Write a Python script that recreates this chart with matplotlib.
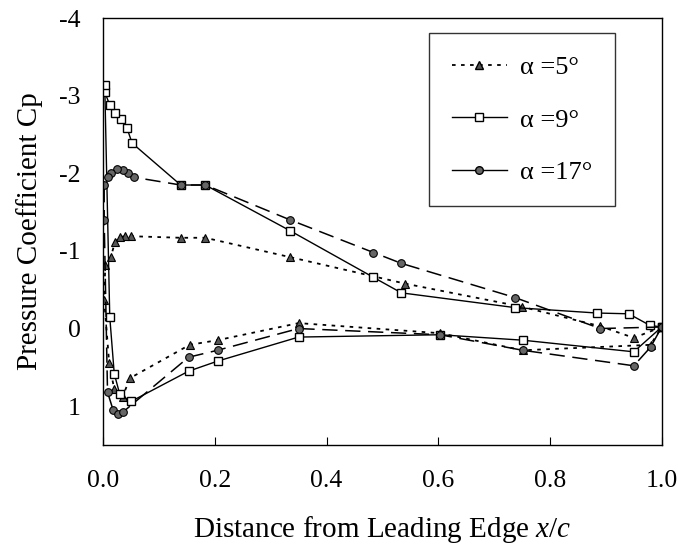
import matplotlib
matplotlib.use("Agg")
import matplotlib.pyplot as plt
from matplotlib.lines import Line2D

plt.rcParams['font.family'] = ['Liberation Serif', 'DejaVu Serif']
plt.rcParams['mathtext.fontset'] = 'custom'
plt.rcParams['mathtext.rm'] = 'Liberation Serif'
plt.rcParams['mathtext.it'] = 'Liberation Serif:italic'

# alpha = 5 deg (triangles), loop: upper surface TE -> LE, then lower LE -> TE
x_a5 = [1.0, 0.95, 0.89, 0.75, 0.54, 0.335, 0.183, 0.139, 0.05, 0.04, 0.03, 0.021, 0.014, 0.004, 0.002,
        0.011, 0.02, 0.035, 0.048, 0.155, 0.205, 0.35, 0.603, 0.751, 0.98, 1.0]
cp_a5 = [-0.02, 0.12, -0.03, -0.28, -0.58, -0.92, -1.17, -1.17, -1.19, -1.19, -1.18, -1.11, -0.92, -0.82, -0.37,
         0.45, 0.78, 0.88, 0.64, 0.21, 0.15, -0.07, 0.06, 0.28, 0.21, -0.02]

# alpha = 9 deg (squares)
x_a9 = [1.0, 0.979, 0.941, 0.884, 0.737, 0.534, 0.484, 0.335, 0.183, 0.139, 0.052, 0.043, 0.032, 0.022, 0.012,
        0.003, 0.003, 0.012, 0.02, 0.03, 0.05, 0.153, 0.205, 0.35, 0.603, 0.751, 0.95, 1.0]
cp_a9 = [-0.02, -0.04, -0.19, -0.2, -0.27, -0.46, -0.66, -1.26, -1.85, -1.85, -2.39, -2.58, -2.70, -2.78, -2.88,
         -3.05, -3.14, -0.15, 0.58, 0.85, 0.94, 0.55, 0.42, 0.11, 0.08, 0.15, 0.30, -0.02]

# alpha = 17 deg (circles)
x_a17 = [1.0, 0.89, 0.737, 0.534, 0.484, 0.335, 0.183, 0.139, 0.055, 0.045, 0.035, 0.025, 0.015, 0.008, 0.002,
         0.002, 0.008, 0.018, 0.026, 0.035, 0.153, 0.205, 0.35, 0.603, 0.751, 0.95, 0.98, 1.0]
cp_a17 = [-0.02, 0.0, -0.40, -0.84, -0.98, -1.40, -1.85, -1.85, -1.95, -2.0, -2.04, -2.05, -2.0, -1.95, -1.85,
          -1.4, 0.82, 1.05, 1.1, 1.08, 0.37, 0.28, 0.0, 0.08, 0.28, 0.48, 0.24, -0.02]

x_ticks = [0.0, 0.2, 0.4, 0.6, 0.8, 1.0]
y_ticks = [-4, -3, -2, -1, 0, 1]
labels = ['\u03b1 =5\u00b0', '\u03b1 =9\u00b0', '\u03b1 =17\u00b0']

fig = plt.figure(figsize=(6.78, 5.52), dpi=100)
ax = fig.add_axes([0.152, 0.194, 0.824, 0.773])

ax.plot(x_a5, cp_a5, color='black', lw=1.3, dashes=(2, 3), marker='^', ms=6,
        mfc='#555555', mec='black', mew=0.8)
ax.plot(x_a9, cp_a9, color='black', lw=1.0, linestyle='-', marker='s', ms=6,
        mfc='white', mec='black', mew=1.0)
ax.plot(x_a17, cp_a17, color='black', lw=1.1, dashes=(10, 5), marker='o', ms=5.5,
        mfc='#666666', mec='black', mew=0.8)

ax.set_xlim(0, 1.0)
ax.set_ylim(1.5, -4)
ax.set_xticks(x_ticks)
ax.set_xticklabels(['%.1f' % t for t in x_ticks])
ax.set_yticks(y_ticks)
ax.set_yticklabels([str(t) for t in y_ticks])
ax.tick_params(axis='x', direction='in', length=6, pad=18, labelsize=18.5)
ax.tick_params(axis='y', length=0, pad=16, labelsize=18.5)
for s in ax.spines.values():
    s.set_linewidth(1.0)

ax.set_xlabel('Distance from Leading Edge $\\mathit{x/c}$', fontsize=21, labelpad=16)
ax.set_ylabel('Pressure Coefficient Cp', fontsize=21, labelpad=12)

handles = [
    Line2D([], [], color='black', lw=1.3, dashes=(2, 3), marker='^', ms=6, mfc='#555555', mec='black'),
    Line2D([], [], color='black', lw=1.0, marker='s', ms=6, mfc='white', mec='black'),
    Line2D([], [], color='black', lw=1.0, marker='o', ms=5.5, mfc='#666666', mec='black'),
]
leg = ax.legend(handles, labels, loc='upper left', bbox_to_anchor=(0.584, 0.965),
                borderaxespad=0, fontsize=19, frameon=True, fancybox=False, edgecolor='black',
                handlelength=2.1, labelspacing=1.1, borderpad=0.85, handletextpad=0.5)
leg.get_frame().set_linewidth(1.0)

fig.savefig('out.png', dpi=100)
